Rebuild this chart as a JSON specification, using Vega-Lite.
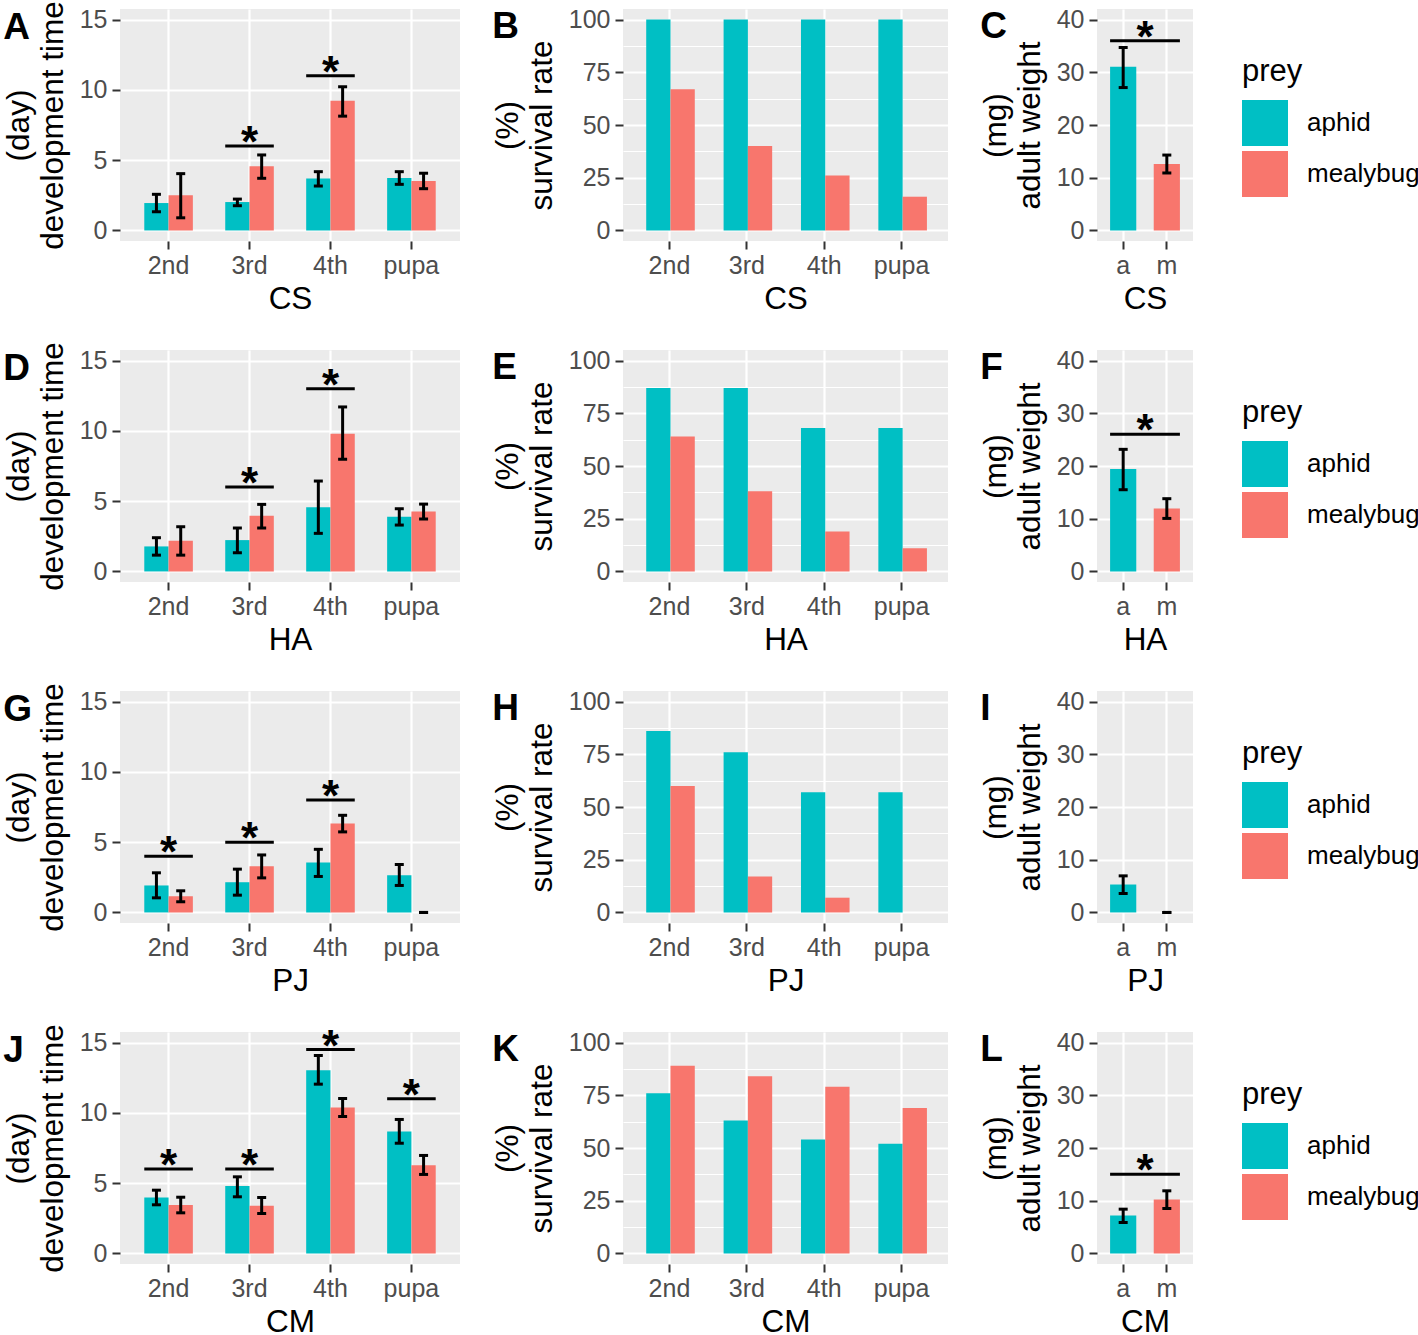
{
"$schema": "https://vega.github.io/schema/vega-lite/v6.json",
"padding": {"left": 3, "top": 0, "right": 0, "bottom": 0},
"datasets": {
"dev": [
{"site":"CS","stage":"2nd","prey":"aphid","mean":1.95,"lo":1.33,"hi":2.57},
{"site":"CS","stage":"2nd","prey":"mealybug","mean":2.5,"lo":0.9,"hi":4.04},
{"site":"CS","stage":"3rd","prey":"aphid","mean":2.02,"lo":1.76,"hi":2.23},
{"site":"CS","stage":"3rd","prey":"mealybug","mean":4.56,"lo":3.71,"hi":5.37},
{"site":"CS","stage":"4th","prey":"aphid","mean":3.69,"lo":3.16,"hi":4.18},
{"site":"CS","stage":"4th","prey":"mealybug","mean":9.22,"lo":8.13,"hi":10.22},
{"site":"CS","stage":"pupa","prey":"aphid","mean":3.73,"lo":3.28,"hi":4.18},
{"site":"CS","stage":"pupa","prey":"mealybug","mean":3.52,"lo":2.97,"hi":4.07},
{"site":"HA","stage":"2nd","prey":"aphid","mean":1.78,"lo":1.16,"hi":2.4},
{"site":"HA","stage":"2nd","prey":"mealybug","mean":2.18,"lo":1.16,"hi":3.18},
{"site":"HA","stage":"3rd","prey":"aphid","mean":2.23,"lo":1.33,"hi":3.09},
{"site":"HA","stage":"3rd","prey":"mealybug","mean":3.96,"lo":3.09,"hi":4.77},
{"site":"HA","stage":"4th","prey":"aphid","mean":4.56,"lo":2.71,"hi":6.43},
{"site":"HA","stage":"4th","prey":"mealybug","mean":9.8,"lo":7.98,"hi":11.7},
{"site":"HA","stage":"pupa","prey":"aphid","mean":3.89,"lo":3.3,"hi":4.46},
{"site":"HA","stage":"pupa","prey":"mealybug","mean":4.27,"lo":3.73,"hi":4.79},
{"site":"PJ","stage":"2nd","prey":"aphid","mean":1.92,"lo":1.04,"hi":2.82},
{"site":"PJ","stage":"2nd","prey":"mealybug","mean":1.16,"lo":0.76,"hi":1.54},
{"site":"PJ","stage":"3rd","prey":"aphid","mean":2.15,"lo":1.23,"hi":3.08},
{"site":"PJ","stage":"3rd","prey":"mealybug","mean":3.29,"lo":2.46,"hi":4.09},
{"site":"PJ","stage":"4th","prey":"aphid","mean":3.55,"lo":2.56,"hi":4.49},
{"site":"PJ","stage":"4th","prey":"mealybug","mean":6.32,"lo":5.73,"hi":6.91},
{"site":"PJ","stage":"pupa","prey":"aphid","mean":2.65,"lo":1.92,"hi":3.41},
{"site":"PJ","stage":"pupa","prey":"mealybug","mean":0,"lo":0,"hi":0},
{"site":"CM","stage":"2nd","prey":"aphid","mean":3.98,"lo":3.46,"hi":4.5},
{"site":"CM","stage":"2nd","prey":"mealybug","mean":3.44,"lo":2.89,"hi":4.0},
{"site":"CM","stage":"3rd","prey":"aphid","mean":4.79,"lo":4.03,"hi":5.45},
{"site":"CM","stage":"3rd","prey":"mealybug","mean":3.39,"lo":2.84,"hi":3.98},
{"site":"CM","stage":"4th","prey":"aphid","mean":13.03,"lo":12.04,"hi":14.08},
{"site":"CM","stage":"4th","prey":"mealybug","mean":10.38,"lo":9.74,"hi":11.02},
{"site":"CM","stage":"pupa","prey":"aphid","mean":8.67,"lo":7.84,"hi":9.53},
{"site":"CM","stage":"pupa","prey":"mealybug","mean":6.28,"lo":5.62,"hi":6.97}
],
"surv": [
{"site":"CS","stage":"2nd","prey":"aphid","rate":100},{"site":"CS","stage":"3rd","prey":"aphid","rate":100},{"site":"CS","stage":"4th","prey":"aphid","rate":100},{"site":"CS","stage":"pupa","prey":"aphid","rate":100},
{"site":"CS","stage":"2nd","prey":"mealybug","rate":67},{"site":"CS","stage":"3rd","prey":"mealybug","rate":40},{"site":"CS","stage":"4th","prey":"mealybug","rate":26},{"site":"CS","stage":"pupa","prey":"mealybug","rate":16},
{"site":"HA","stage":"2nd","prey":"aphid","rate":87},{"site":"HA","stage":"3rd","prey":"aphid","rate":87},{"site":"HA","stage":"4th","prey":"aphid","rate":68},{"site":"HA","stage":"pupa","prey":"aphid","rate":68},
{"site":"HA","stage":"2nd","prey":"mealybug","rate":64},{"site":"HA","stage":"3rd","prey":"mealybug","rate":38},{"site":"HA","stage":"4th","prey":"mealybug","rate":19},{"site":"HA","stage":"pupa","prey":"mealybug","rate":11},
{"site":"PJ","stage":"2nd","prey":"aphid","rate":86},{"site":"PJ","stage":"3rd","prey":"aphid","rate":76},{"site":"PJ","stage":"4th","prey":"aphid","rate":57},{"site":"PJ","stage":"pupa","prey":"aphid","rate":57},
{"site":"PJ","stage":"2nd","prey":"mealybug","rate":60},{"site":"PJ","stage":"3rd","prey":"mealybug","rate":17},{"site":"PJ","stage":"4th","prey":"mealybug","rate":7},{"site":"PJ","stage":"pupa","prey":"mealybug","rate":0},
{"site":"CM","stage":"2nd","prey":"aphid","rate":76},{"site":"CM","stage":"3rd","prey":"aphid","rate":63},{"site":"CM","stage":"4th","prey":"aphid","rate":54},{"site":"CM","stage":"pupa","prey":"aphid","rate":52},
{"site":"CM","stage":"2nd","prey":"mealybug","rate":89},{"site":"CM","stage":"3rd","prey":"mealybug","rate":84},{"site":"CM","stage":"4th","prey":"mealybug","rate":79},{"site":"CM","stage":"pupa","prey":"mealybug","rate":69}
],
"wt": [
{"site":"CS","cat":"a","prey":"aphid","mean":31.05,"lo":27.1,"hi":34.7},
{"site":"CS","cat":"m","prey":"mealybug","mean":12.6,"lo":10.9,"hi":14.3},
{"site":"HA","cat":"a","prey":"aphid","mean":19.43,"lo":15.5,"hi":23.16},
{"site":"HA","cat":"m","prey":"mealybug","mean":11.96,"lo":10.06,"hi":13.8},
{"site":"PJ","cat":"a","prey":"aphid","mean":5.3,"lo":3.6,"hi":6.94},
{"site":"PJ","cat":"m","prey":"mealybug","mean":0,"lo":0,"hi":0},
{"site":"CM","cat":"a","prey":"aphid","mean":7.2,"lo":5.87,"hi":8.4},
{"site":"CM","cat":"m","prey":"mealybug","mean":10.23,"lo":8.53,"hi":11.88}
],
"sigdev": [
{"site":"CS","stage":"3rd","y":6},{"site":"CS","stage":"4th","y":11},
{"site":"HA","stage":"3rd","y":6},{"site":"HA","stage":"4th","y":13},
{"site":"PJ","stage":"2nd","y":4},{"site":"PJ","stage":"3rd","y":5},{"site":"PJ","stage":"4th","y":8},
{"site":"CM","stage":"2nd","y":6},{"site":"CM","stage":"3rd","y":6},{"site":"CM","stage":"4th","y":14.5},{"site":"CM","stage":"pupa","y":11}
],
"sigwt": [
{"site":"CS","from":"a","to":"m","y":36},
{"site":"HA","from":"a","to":"m","y":26},
{"site":"CM","from":"a","to":"m","y":15}
]
},
"spacing": 26,
"resolve": {"scale": {"color": "independent"}, "legend": {"color": "independent"}},
"vconcat": [
{"spacing": 32, "hconcat": [
{"width": 340, "height": 232, "title": {"text": "A", "offset": -46},
 "layer": [
 {"data": {"name": "dev"}, "transform": [{"filter": "datum.site === 'CS'"}], "mark": {"type": "bar"},
  "encoding": {
   "x": {"field": "stage", "type": "nominal", "title": "CS", "scale": {"domain": ["2nd","3rd","4th","pupa"], "paddingInner": 0.4, "paddingOuter": 0.3}, "axis": {"grid": true, "bandPosition": 0.5}},
   "xOffset": {"field": "prey", "type": "nominal"},
   "y": {"field": "mean", "type": "quantitative", "title": ["(day)", "development time"], "scale": {"domain": [-0.75, 15.75], "nice": false, "zero": false},
     "axis": {"values": [0,2.5,5,7.5,10,12.5,15], "labelExpr": "datum.value % 5 === 0 ? datum.label : ''", "gridWidth": {"condition": {"test": "datum.value % 5 === 0", "value": 2.2}, "value": 1.1}, "tickOpacity": {"condition": {"test": "datum.value % 5 === 0", "value": 1}, "value": 0}}},
   "color": {"field": "prey", "type": "nominal", "title": "prey", "scale": {"domain": ["aphid","mealybug"], "range": ["#00BFC4","#F8766D"]}}
  }},
 {"data": {"name": "dev"}, "transform": [{"filter": "datum.site === 'CS'"}], "mark": {"type": "rule", "strokeWidth": 3, "color": "black"},
  "encoding": {"x": {"field": "stage", "type": "nominal"}, "xOffset": {"field": "prey", "type": "nominal"}, "y": {"field": "lo", "type": "quantitative"}, "y2": {"field": "hi"}}},
 {"data": {"name": "dev"}, "transform": [{"filter": "datum.site === 'CS'"}], "mark": {"type": "tick", "size": 9, "thickness": 3, "color": "black", "opacity": 1},
  "encoding": {"x": {"field": "stage", "type": "nominal"}, "xOffset": {"field": "prey", "type": "nominal"}, "y": {"field": "lo", "type": "quantitative"}}},
 {"data": {"name": "dev"}, "transform": [{"filter": "datum.site === 'CS'"}], "mark": {"type": "tick", "size": 9, "thickness": 3, "color": "black", "opacity": 1},
  "encoding": {"x": {"field": "stage", "type": "nominal"}, "xOffset": {"field": "prey", "type": "nominal"}, "y": {"field": "hi", "type": "quantitative"}}},
 {"data": {"name": "sigdev"}, "transform": [{"filter": "datum.site === 'CS'"}], "mark": {"type": "rule", "strokeWidth": 3, "color": "black"},
  "encoding": {"x": {"field": "stage", "type": "nominal", "bandPosition": 0}, "x2": {"field": "stage", "bandPosition": 1}, "y": {"field": "y", "type": "quantitative"}}},
 {"data": {"name": "sigdev"}, "transform": [{"filter": "datum.site === 'CS'"}], "mark": {"type": "text", "text": "*", "fontSize": 44, "fontWeight": "bold", "baseline": "alphabetic", "dy": 11, "color": "black"},
  "encoding": {"x": {"field": "stage", "type": "nominal"}, "y": {"field": "y", "type": "quantitative"}}}
 ]},
{"width": 325, "height": 232, "title": {"text": "B", "offset": -38},
 "data": {"name": "surv"}, "transform": [{"filter": "datum.site === 'CS'"}], "mark": {"type": "bar"},
 "encoding": {
  "x": {"field": "stage", "type": "nominal", "title": "CS", "scale": {"domain": ["2nd","3rd","4th","pupa"], "paddingInner": 0.4, "paddingOuter": 0.3}, "axis": {"grid": true, "bandPosition": 0.5}},
  "xOffset": {"field": "prey", "type": "nominal"},
  "y": {"field": "rate", "type": "quantitative", "title": ["(%)", "survival rate"], "scale": {"domain": [-5, 105], "nice": false, "zero": false},
    "axis": {"values": [0,12.5,25,37.5,50,62.5,75,87.5,100], "labelExpr": "datum.value % 25 === 0 ? datum.label : ''", "gridWidth": {"condition": {"test": "datum.value % 25 === 0", "value": 2.2}, "value": 1.1}, "tickOpacity": {"condition": {"test": "datum.value % 25 === 0", "value": 1}, "value": 0}}},
  "color": {"field": "prey", "type": "nominal", "title": "prey", "scale": {"domain": ["aphid","mealybug"], "range": ["#00BFC4","#F8766D"]}}
 }},
{"width": 96, "height": 232, "title": {"text": "C", "offset": -38},
 "layer": [
 {"data": {"name": "wt"}, "transform": [{"filter": "datum.site === 'CS'"}], "mark": {"type": "bar"},
  "encoding": {
   "x": {"field": "cat", "type": "nominal", "title": "CS", "scale": {"domain": ["a","m"], "paddingInner": 0.4, "paddingOuter": 0.3}, "axis": {"grid": true, "bandPosition": 0.5}},
   "y": {"field": "mean", "type": "quantitative", "title": ["(mg)", "adult weight"], "scale": {"domain": [-2, 42], "nice": false, "zero": false},
     "axis": {"values": [0,5,10,15,20,25,30,35,40], "labelExpr": "datum.value % 10 === 0 ? datum.label : ''", "gridWidth": {"condition": {"test": "datum.value % 10 === 0", "value": 2.2}, "value": 1.1}, "tickOpacity": {"condition": {"test": "datum.value % 10 === 0", "value": 1}, "value": 0}}},
   "color": {"field": "prey", "type": "nominal", "title": "prey", "scale": {"domain": ["aphid","mealybug"], "range": ["#00BFC4","#F8766D"]}}
  }},
 {"data": {"name": "wt"}, "transform": [{"filter": "datum.site === 'CS'"}], "mark": {"type": "rule", "strokeWidth": 3, "color": "black"},
  "encoding": {"x": {"field": "cat", "type": "nominal"}, "y": {"field": "lo", "type": "quantitative"}, "y2": {"field": "hi"}}},
 {"data": {"name": "wt"}, "transform": [{"filter": "datum.site === 'CS'"}], "mark": {"type": "tick", "size": 9, "thickness": 3, "color": "black", "opacity": 1},
  "encoding": {"x": {"field": "cat", "type": "nominal"}, "y": {"field": "lo", "type": "quantitative"}}},
 {"data": {"name": "wt"}, "transform": [{"filter": "datum.site === 'CS'"}], "mark": {"type": "tick", "size": 9, "thickness": 3, "color": "black", "opacity": 1},
  "encoding": {"x": {"field": "cat", "type": "nominal"}, "y": {"field": "hi", "type": "quantitative"}}},
 {"data": {"name": "sigwt"}, "transform": [{"filter": "datum.site === 'CS'"}], "mark": {"type": "rule", "strokeWidth": 3, "color": "black"},
  "encoding": {"x": {"field": "from", "type": "nominal", "bandPosition": 0}, "x2": {"field": "to", "bandPosition": 1}, "y": {"field": "y", "type": "quantitative"}}},
 {"data": {"name": "sigwt"}, "transform": [{"filter": "datum.site === 'CS'"}], "mark": {"type": "text", "text": "*", "fontSize": 44, "fontWeight": "bold", "baseline": "alphabetic", "dy": 11, "color": "black"},
  "encoding": {"x": {"field": "from", "type": "nominal", "bandPosition": 1.3333}, "y": {"field": "y", "type": "quantitative"}}}
 ]}
]},
{"spacing": 32, "hconcat": [
{"width": 340, "height": 232, "title": {"text": "D", "offset": -46},
 "layer": [
 {"data": {"name": "dev"}, "transform": [{"filter": "datum.site === 'HA'"}], "mark": {"type": "bar"},
  "encoding": {
   "x": {"field": "stage", "type": "nominal", "title": "HA", "scale": {"domain": ["2nd","3rd","4th","pupa"], "paddingInner": 0.4, "paddingOuter": 0.3}, "axis": {"grid": true, "bandPosition": 0.5}},
   "xOffset": {"field": "prey", "type": "nominal"},
   "y": {"field": "mean", "type": "quantitative", "title": ["(day)", "development time"], "scale": {"domain": [-0.75, 15.75], "nice": false, "zero": false},
     "axis": {"values": [0,2.5,5,7.5,10,12.5,15], "labelExpr": "datum.value % 5 === 0 ? datum.label : ''", "gridWidth": {"condition": {"test": "datum.value % 5 === 0", "value": 2.2}, "value": 1.1}, "tickOpacity": {"condition": {"test": "datum.value % 5 === 0", "value": 1}, "value": 0}}},
   "color": {"field": "prey", "type": "nominal", "title": "prey", "scale": {"domain": ["aphid","mealybug"], "range": ["#00BFC4","#F8766D"]}}
  }},
 {"data": {"name": "dev"}, "transform": [{"filter": "datum.site === 'HA'"}], "mark": {"type": "rule", "strokeWidth": 3, "color": "black"},
  "encoding": {"x": {"field": "stage", "type": "nominal"}, "xOffset": {"field": "prey", "type": "nominal"}, "y": {"field": "lo", "type": "quantitative"}, "y2": {"field": "hi"}}},
 {"data": {"name": "dev"}, "transform": [{"filter": "datum.site === 'HA'"}], "mark": {"type": "tick", "size": 9, "thickness": 3, "color": "black", "opacity": 1},
  "encoding": {"x": {"field": "stage", "type": "nominal"}, "xOffset": {"field": "prey", "type": "nominal"}, "y": {"field": "lo", "type": "quantitative"}}},
 {"data": {"name": "dev"}, "transform": [{"filter": "datum.site === 'HA'"}], "mark": {"type": "tick", "size": 9, "thickness": 3, "color": "black", "opacity": 1},
  "encoding": {"x": {"field": "stage", "type": "nominal"}, "xOffset": {"field": "prey", "type": "nominal"}, "y": {"field": "hi", "type": "quantitative"}}},
 {"data": {"name": "sigdev"}, "transform": [{"filter": "datum.site === 'HA'"}], "mark": {"type": "rule", "strokeWidth": 3, "color": "black"},
  "encoding": {"x": {"field": "stage", "type": "nominal", "bandPosition": 0}, "x2": {"field": "stage", "bandPosition": 1}, "y": {"field": "y", "type": "quantitative"}}},
 {"data": {"name": "sigdev"}, "transform": [{"filter": "datum.site === 'HA'"}], "mark": {"type": "text", "text": "*", "fontSize": 44, "fontWeight": "bold", "baseline": "alphabetic", "dy": 11, "color": "black"},
  "encoding": {"x": {"field": "stage", "type": "nominal"}, "y": {"field": "y", "type": "quantitative"}}}
 ]},
{"width": 325, "height": 232, "title": {"text": "E", "offset": -38},
 "data": {"name": "surv"}, "transform": [{"filter": "datum.site === 'HA'"}], "mark": {"type": "bar"},
 "encoding": {
  "x": {"field": "stage", "type": "nominal", "title": "HA", "scale": {"domain": ["2nd","3rd","4th","pupa"], "paddingInner": 0.4, "paddingOuter": 0.3}, "axis": {"grid": true, "bandPosition": 0.5}},
  "xOffset": {"field": "prey", "type": "nominal"},
  "y": {"field": "rate", "type": "quantitative", "title": ["(%)", "survival rate"], "scale": {"domain": [-5, 105], "nice": false, "zero": false},
    "axis": {"values": [0,12.5,25,37.5,50,62.5,75,87.5,100], "labelExpr": "datum.value % 25 === 0 ? datum.label : ''", "gridWidth": {"condition": {"test": "datum.value % 25 === 0", "value": 2.2}, "value": 1.1}, "tickOpacity": {"condition": {"test": "datum.value % 25 === 0", "value": 1}, "value": 0}}},
  "color": {"field": "prey", "type": "nominal", "title": "prey", "scale": {"domain": ["aphid","mealybug"], "range": ["#00BFC4","#F8766D"]}}
 }},
{"width": 96, "height": 232, "title": {"text": "F", "offset": -38},
 "layer": [
 {"data": {"name": "wt"}, "transform": [{"filter": "datum.site === 'HA'"}], "mark": {"type": "bar"},
  "encoding": {
   "x": {"field": "cat", "type": "nominal", "title": "HA", "scale": {"domain": ["a","m"], "paddingInner": 0.4, "paddingOuter": 0.3}, "axis": {"grid": true, "bandPosition": 0.5}},
   "y": {"field": "mean", "type": "quantitative", "title": ["(mg)", "adult weight"], "scale": {"domain": [-2, 42], "nice": false, "zero": false},
     "axis": {"values": [0,5,10,15,20,25,30,35,40], "labelExpr": "datum.value % 10 === 0 ? datum.label : ''", "gridWidth": {"condition": {"test": "datum.value % 10 === 0", "value": 2.2}, "value": 1.1}, "tickOpacity": {"condition": {"test": "datum.value % 10 === 0", "value": 1}, "value": 0}}},
   "color": {"field": "prey", "type": "nominal", "title": "prey", "scale": {"domain": ["aphid","mealybug"], "range": ["#00BFC4","#F8766D"]}}
  }},
 {"data": {"name": "wt"}, "transform": [{"filter": "datum.site === 'HA'"}], "mark": {"type": "rule", "strokeWidth": 3, "color": "black"},
  "encoding": {"x": {"field": "cat", "type": "nominal"}, "y": {"field": "lo", "type": "quantitative"}, "y2": {"field": "hi"}}},
 {"data": {"name": "wt"}, "transform": [{"filter": "datum.site === 'HA'"}], "mark": {"type": "tick", "size": 9, "thickness": 3, "color": "black", "opacity": 1},
  "encoding": {"x": {"field": "cat", "type": "nominal"}, "y": {"field": "lo", "type": "quantitative"}}},
 {"data": {"name": "wt"}, "transform": [{"filter": "datum.site === 'HA'"}], "mark": {"type": "tick", "size": 9, "thickness": 3, "color": "black", "opacity": 1},
  "encoding": {"x": {"field": "cat", "type": "nominal"}, "y": {"field": "hi", "type": "quantitative"}}},
 {"data": {"name": "sigwt"}, "transform": [{"filter": "datum.site === 'HA'"}], "mark": {"type": "rule", "strokeWidth": 3, "color": "black"},
  "encoding": {"x": {"field": "from", "type": "nominal", "bandPosition": 0}, "x2": {"field": "to", "bandPosition": 1}, "y": {"field": "y", "type": "quantitative"}}},
 {"data": {"name": "sigwt"}, "transform": [{"filter": "datum.site === 'HA'"}], "mark": {"type": "text", "text": "*", "fontSize": 44, "fontWeight": "bold", "baseline": "alphabetic", "dy": 11, "color": "black"},
  "encoding": {"x": {"field": "from", "type": "nominal", "bandPosition": 1.3333}, "y": {"field": "y", "type": "quantitative"}}}
 ]}
]},
{"spacing": 32, "hconcat": [
{"width": 340, "height": 232, "title": {"text": "G", "offset": -46},
 "layer": [
 {"data": {"name": "dev"}, "transform": [{"filter": "datum.site === 'PJ'"}], "mark": {"type": "bar"},
  "encoding": {
   "x": {"field": "stage", "type": "nominal", "title": "PJ", "scale": {"domain": ["2nd","3rd","4th","pupa"], "paddingInner": 0.4, "paddingOuter": 0.3}, "axis": {"grid": true, "bandPosition": 0.5}},
   "xOffset": {"field": "prey", "type": "nominal"},
   "y": {"field": "mean", "type": "quantitative", "title": ["(day)", "development time"], "scale": {"domain": [-0.75, 15.75], "nice": false, "zero": false},
     "axis": {"values": [0,2.5,5,7.5,10,12.5,15], "labelExpr": "datum.value % 5 === 0 ? datum.label : ''", "gridWidth": {"condition": {"test": "datum.value % 5 === 0", "value": 2.2}, "value": 1.1}, "tickOpacity": {"condition": {"test": "datum.value % 5 === 0", "value": 1}, "value": 0}}},
   "color": {"field": "prey", "type": "nominal", "title": "prey", "scale": {"domain": ["aphid","mealybug"], "range": ["#00BFC4","#F8766D"]}}
  }},
 {"data": {"name": "dev"}, "transform": [{"filter": "datum.site === 'PJ'"}], "mark": {"type": "rule", "strokeWidth": 3, "color": "black"},
  "encoding": {"x": {"field": "stage", "type": "nominal"}, "xOffset": {"field": "prey", "type": "nominal"}, "y": {"field": "lo", "type": "quantitative"}, "y2": {"field": "hi"}}},
 {"data": {"name": "dev"}, "transform": [{"filter": "datum.site === 'PJ'"}], "mark": {"type": "tick", "size": 9, "thickness": 3, "color": "black", "opacity": 1},
  "encoding": {"x": {"field": "stage", "type": "nominal"}, "xOffset": {"field": "prey", "type": "nominal"}, "y": {"field": "lo", "type": "quantitative"}}},
 {"data": {"name": "dev"}, "transform": [{"filter": "datum.site === 'PJ'"}], "mark": {"type": "tick", "size": 9, "thickness": 3, "color": "black", "opacity": 1},
  "encoding": {"x": {"field": "stage", "type": "nominal"}, "xOffset": {"field": "prey", "type": "nominal"}, "y": {"field": "hi", "type": "quantitative"}}},
 {"data": {"name": "sigdev"}, "transform": [{"filter": "datum.site === 'PJ'"}], "mark": {"type": "rule", "strokeWidth": 3, "color": "black"},
  "encoding": {"x": {"field": "stage", "type": "nominal", "bandPosition": 0}, "x2": {"field": "stage", "bandPosition": 1}, "y": {"field": "y", "type": "quantitative"}}},
 {"data": {"name": "sigdev"}, "transform": [{"filter": "datum.site === 'PJ'"}], "mark": {"type": "text", "text": "*", "fontSize": 44, "fontWeight": "bold", "baseline": "alphabetic", "dy": 11, "color": "black"},
  "encoding": {"x": {"field": "stage", "type": "nominal"}, "y": {"field": "y", "type": "quantitative"}}}
 ]},
{"width": 325, "height": 232, "title": {"text": "H", "offset": -38},
 "data": {"name": "surv"}, "transform": [{"filter": "datum.site === 'PJ'"}], "mark": {"type": "bar"},
 "encoding": {
  "x": {"field": "stage", "type": "nominal", "title": "PJ", "scale": {"domain": ["2nd","3rd","4th","pupa"], "paddingInner": 0.4, "paddingOuter": 0.3}, "axis": {"grid": true, "bandPosition": 0.5}},
  "xOffset": {"field": "prey", "type": "nominal"},
  "y": {"field": "rate", "type": "quantitative", "title": ["(%)", "survival rate"], "scale": {"domain": [-5, 105], "nice": false, "zero": false},
    "axis": {"values": [0,12.5,25,37.5,50,62.5,75,87.5,100], "labelExpr": "datum.value % 25 === 0 ? datum.label : ''", "gridWidth": {"condition": {"test": "datum.value % 25 === 0", "value": 2.2}, "value": 1.1}, "tickOpacity": {"condition": {"test": "datum.value % 25 === 0", "value": 1}, "value": 0}}},
  "color": {"field": "prey", "type": "nominal", "title": "prey", "scale": {"domain": ["aphid","mealybug"], "range": ["#00BFC4","#F8766D"]}}
 }},
{"width": 96, "height": 232, "title": {"text": "I", "offset": -38},
 "layer": [
 {"data": {"name": "wt"}, "transform": [{"filter": "datum.site === 'PJ'"}], "mark": {"type": "bar"},
  "encoding": {
   "x": {"field": "cat", "type": "nominal", "title": "PJ", "scale": {"domain": ["a","m"], "paddingInner": 0.4, "paddingOuter": 0.3}, "axis": {"grid": true, "bandPosition": 0.5}},
   "y": {"field": "mean", "type": "quantitative", "title": ["(mg)", "adult weight"], "scale": {"domain": [-2, 42], "nice": false, "zero": false},
     "axis": {"values": [0,5,10,15,20,25,30,35,40], "labelExpr": "datum.value % 10 === 0 ? datum.label : ''", "gridWidth": {"condition": {"test": "datum.value % 10 === 0", "value": 2.2}, "value": 1.1}, "tickOpacity": {"condition": {"test": "datum.value % 10 === 0", "value": 1}, "value": 0}}},
   "color": {"field": "prey", "type": "nominal", "title": "prey", "scale": {"domain": ["aphid","mealybug"], "range": ["#00BFC4","#F8766D"]}}
  }},
 {"data": {"name": "wt"}, "transform": [{"filter": "datum.site === 'PJ'"}], "mark": {"type": "rule", "strokeWidth": 3, "color": "black"},
  "encoding": {"x": {"field": "cat", "type": "nominal"}, "y": {"field": "lo", "type": "quantitative"}, "y2": {"field": "hi"}}},
 {"data": {"name": "wt"}, "transform": [{"filter": "datum.site === 'PJ'"}], "mark": {"type": "tick", "size": 9, "thickness": 3, "color": "black", "opacity": 1},
  "encoding": {"x": {"field": "cat", "type": "nominal"}, "y": {"field": "lo", "type": "quantitative"}}},
 {"data": {"name": "wt"}, "transform": [{"filter": "datum.site === 'PJ'"}], "mark": {"type": "tick", "size": 9, "thickness": 3, "color": "black", "opacity": 1},
  "encoding": {"x": {"field": "cat", "type": "nominal"}, "y": {"field": "hi", "type": "quantitative"}}}
 ]}
]},
{"spacing": 32, "hconcat": [
{"width": 340, "height": 232, "title": {"text": "J", "offset": -46},
 "layer": [
 {"data": {"name": "dev"}, "transform": [{"filter": "datum.site === 'CM'"}], "mark": {"type": "bar"},
  "encoding": {
   "x": {"field": "stage", "type": "nominal", "title": "CM", "scale": {"domain": ["2nd","3rd","4th","pupa"], "paddingInner": 0.4, "paddingOuter": 0.3}, "axis": {"grid": true, "bandPosition": 0.5}},
   "xOffset": {"field": "prey", "type": "nominal"},
   "y": {"field": "mean", "type": "quantitative", "title": ["(day)", "development time"], "scale": {"domain": [-0.75, 15.75], "nice": false, "zero": false},
     "axis": {"values": [0,2.5,5,7.5,10,12.5,15], "labelExpr": "datum.value % 5 === 0 ? datum.label : ''", "gridWidth": {"condition": {"test": "datum.value % 5 === 0", "value": 2.2}, "value": 1.1}, "tickOpacity": {"condition": {"test": "datum.value % 5 === 0", "value": 1}, "value": 0}}},
   "color": {"field": "prey", "type": "nominal", "title": "prey", "scale": {"domain": ["aphid","mealybug"], "range": ["#00BFC4","#F8766D"]}}
  }},
 {"data": {"name": "dev"}, "transform": [{"filter": "datum.site === 'CM'"}], "mark": {"type": "rule", "strokeWidth": 3, "color": "black"},
  "encoding": {"x": {"field": "stage", "type": "nominal"}, "xOffset": {"field": "prey", "type": "nominal"}, "y": {"field": "lo", "type": "quantitative"}, "y2": {"field": "hi"}}},
 {"data": {"name": "dev"}, "transform": [{"filter": "datum.site === 'CM'"}], "mark": {"type": "tick", "size": 9, "thickness": 3, "color": "black", "opacity": 1},
  "encoding": {"x": {"field": "stage", "type": "nominal"}, "xOffset": {"field": "prey", "type": "nominal"}, "y": {"field": "lo", "type": "quantitative"}}},
 {"data": {"name": "dev"}, "transform": [{"filter": "datum.site === 'CM'"}], "mark": {"type": "tick", "size": 9, "thickness": 3, "color": "black", "opacity": 1},
  "encoding": {"x": {"field": "stage", "type": "nominal"}, "xOffset": {"field": "prey", "type": "nominal"}, "y": {"field": "hi", "type": "quantitative"}}},
 {"data": {"name": "sigdev"}, "transform": [{"filter": "datum.site === 'CM'"}], "mark": {"type": "rule", "strokeWidth": 3, "color": "black"},
  "encoding": {"x": {"field": "stage", "type": "nominal", "bandPosition": 0}, "x2": {"field": "stage", "bandPosition": 1}, "y": {"field": "y", "type": "quantitative"}}},
 {"data": {"name": "sigdev"}, "transform": [{"filter": "datum.site === 'CM'"}], "mark": {"type": "text", "text": "*", "fontSize": 44, "fontWeight": "bold", "baseline": "alphabetic", "dy": 11, "color": "black"},
  "encoding": {"x": {"field": "stage", "type": "nominal"}, "y": {"field": "y", "type": "quantitative"}}}
 ]},
{"width": 325, "height": 232, "title": {"text": "K", "offset": -38},
 "data": {"name": "surv"}, "transform": [{"filter": "datum.site === 'CM'"}], "mark": {"type": "bar"},
 "encoding": {
  "x": {"field": "stage", "type": "nominal", "title": "CM", "scale": {"domain": ["2nd","3rd","4th","pupa"], "paddingInner": 0.4, "paddingOuter": 0.3}, "axis": {"grid": true, "bandPosition": 0.5}},
  "xOffset": {"field": "prey", "type": "nominal"},
  "y": {"field": "rate", "type": "quantitative", "title": ["(%)", "survival rate"], "scale": {"domain": [-5, 105], "nice": false, "zero": false},
    "axis": {"values": [0,12.5,25,37.5,50,62.5,75,87.5,100], "labelExpr": "datum.value % 25 === 0 ? datum.label : ''", "gridWidth": {"condition": {"test": "datum.value % 25 === 0", "value": 2.2}, "value": 1.1}, "tickOpacity": {"condition": {"test": "datum.value % 25 === 0", "value": 1}, "value": 0}}},
  "color": {"field": "prey", "type": "nominal", "title": "prey", "scale": {"domain": ["aphid","mealybug"], "range": ["#00BFC4","#F8766D"]}}
 }},
{"width": 96, "height": 232, "title": {"text": "L", "offset": -38},
 "layer": [
 {"data": {"name": "wt"}, "transform": [{"filter": "datum.site === 'CM'"}], "mark": {"type": "bar"},
  "encoding": {
   "x": {"field": "cat", "type": "nominal", "title": "CM", "scale": {"domain": ["a","m"], "paddingInner": 0.4, "paddingOuter": 0.3}, "axis": {"grid": true, "bandPosition": 0.5}},
   "y": {"field": "mean", "type": "quantitative", "title": ["(mg)", "adult weight"], "scale": {"domain": [-2, 42], "nice": false, "zero": false},
     "axis": {"values": [0,5,10,15,20,25,30,35,40], "labelExpr": "datum.value % 10 === 0 ? datum.label : ''", "gridWidth": {"condition": {"test": "datum.value % 10 === 0", "value": 2.2}, "value": 1.1}, "tickOpacity": {"condition": {"test": "datum.value % 10 === 0", "value": 1}, "value": 0}}},
   "color": {"field": "prey", "type": "nominal", "title": "prey", "scale": {"domain": ["aphid","mealybug"], "range": ["#00BFC4","#F8766D"]}}
  }},
 {"data": {"name": "wt"}, "transform": [{"filter": "datum.site === 'CM'"}], "mark": {"type": "rule", "strokeWidth": 3, "color": "black"},
  "encoding": {"x": {"field": "cat", "type": "nominal"}, "y": {"field": "lo", "type": "quantitative"}, "y2": {"field": "hi"}}},
 {"data": {"name": "wt"}, "transform": [{"filter": "datum.site === 'CM'"}], "mark": {"type": "tick", "size": 9, "thickness": 3, "color": "black", "opacity": 1},
  "encoding": {"x": {"field": "cat", "type": "nominal"}, "y": {"field": "lo", "type": "quantitative"}}},
 {"data": {"name": "wt"}, "transform": [{"filter": "datum.site === 'CM'"}], "mark": {"type": "tick", "size": 9, "thickness": 3, "color": "black", "opacity": 1},
  "encoding": {"x": {"field": "cat", "type": "nominal"}, "y": {"field": "hi", "type": "quantitative"}}},
 {"data": {"name": "sigwt"}, "transform": [{"filter": "datum.site === 'CM'"}], "mark": {"type": "rule", "strokeWidth": 3, "color": "black"},
  "encoding": {"x": {"field": "from", "type": "nominal", "bandPosition": 0}, "x2": {"field": "to", "bandPosition": 1}, "y": {"field": "y", "type": "quantitative"}}},
 {"data": {"name": "sigwt"}, "transform": [{"filter": "datum.site === 'CM'"}], "mark": {"type": "text", "text": "*", "fontSize": 44, "fontWeight": "bold", "baseline": "alphabetic", "dy": 11, "color": "black"},
  "encoding": {"x": {"field": "from", "type": "nominal", "bandPosition": 1.3333}, "y": {"field": "y", "type": "quantitative"}}}
 ]}
]}
],
"config": {
 "font": "Liberation Sans",
 "view": {"fill": "#EBEBEB", "stroke": null},
 "bar": {"opacity": 1},
 "axis": {"gridColor": "#FFFFFF", "gridWidth": 2.2, "domain": false, "tickColor": "#333333", "tickSize": 8, "tickWidth": 2, "labelFontSize": 25, "labelColor": "#4D4D4D", "titleFontSize": 31.5, "titleFontWeight": "normal", "titleColor": "#000000", "labelOverlap": false},
 "axisX": {"labelAngle": 0, "labelPadding": 4, "titlePadding": 5},
 "axisY": {"labelPadding": 5, "titlePadding": 10, "titleLineHeight": 34},
 "title": {"fontSize": 37, "fontWeight": "bold", "anchor": "start", "frame": "bounds", "color": "#000000", "baseline": "alphabetic"},
 "legend": {"titleFontSize": 31, "titleFontWeight": "normal", "titleColor": "#000000", "labelFontSize": 26, "labelColor": "#000000", "symbolType": "square", "symbolSize": 2116, "symbolStrokeWidth": 0, "symbolOpacity": 1, "rowPadding": 5, "labelOffset": 19, "titlePadding": 12, "padding": 48, "offset": 1, "labelLimit": 300, "layout": {"right": {"anchor": "start"}}}
}
}
